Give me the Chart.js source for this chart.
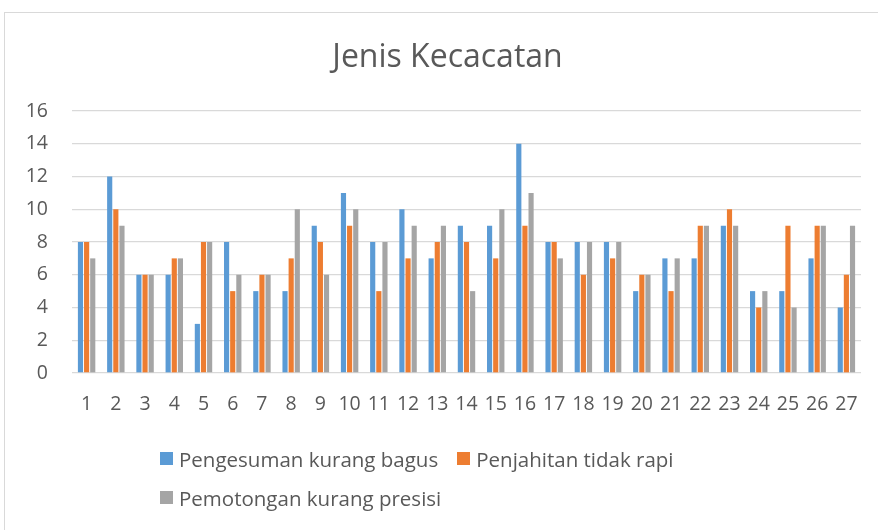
<!DOCTYPE html>
<html>
<head>
<meta charset="utf-8">
<script src="https://cdn.jsdelivr.net/npm/chart.js@4.4.1/dist/chart.umd.min.js"></script>
<style>
  html, body { margin: 0; padding: 0; background: #fff; }
  #wrap { position: relative; width: 878px; height: 530px; overflow: hidden; }
  #frame { position: absolute; left: 4px; top: 12px; width: 880px; height: 530px; border: 1px solid #d9d9d9; box-sizing: border-box; }
  canvas { position: absolute; left: 0; top: 0; }
  #legend { position: absolute; left: 160px; top: 445px; width: 560px; display: flex; flex-wrap: wrap;
            font-family: "Open Sans", sans-serif; font-size: 20.5px; color: #595959; }
  .item { display: flex; align-items: center; height: 27px; margin-right: 19px; margin-bottom: 12px; white-space: nowrap; }
  .sw { width: 13px; height: 13px; margin-right: 6px; flex: none; }
</style>
</head>
<body>
<div id="wrap">
  <div id="frame"></div>
  <canvas id="c" width="878" height="530"></canvas>
  <div id="legend"></div>
</div>
<script>
const categories = ["1","2","3","4","5","6","7","8","9","10","11","12","13","14","15","16","17","18","19","20","21","22","23","24","25","26","27"];
const pengesuman = [8,12,6,6,3,8,5,5,9,11,8,10,7,9,9,14,8,8,8,5,7,7,9,5,5,7,4];
const penjahitan = [8,10,6,7,8,5,6,7,8,9,5,7,8,8,7,9,8,6,7,6,5,9,10,4,9,9,6];
const pemotongan = [7,9,6,7,8,6,6,10,6,10,8,9,9,5,10,11,7,8,8,6,7,9,9,5,4,9,9];
const seriesNames = ["Pengesuman kurang bagus","Penjahitan tidak rapi","Pemotongan kurang presisi"];
const colors = ["#5B9BD5","#ED7D31","#A5A5A5"];
const yTicks = [0,2,4,6,8,10,12,14,16];

const seriesData = [pengesuman, penjahitan, pemotongan];
const chart = new Chart(document.getElementById('c'), {
  type: 'bar',
  data: {
    labels: categories,
    datasets: seriesData.map((d, i) => ({
      label: seriesNames[i],
      data: d,
      backgroundColor: colors[i],
      borderWidth: 0,
      categoryPercentage: 0.63,
      barPercentage: 0.84
    }))
  },
  options: {
    responsive: false,
    animation: false,
    layout: { padding: { left: 17, right: 0, top: 0, bottom: 117 } },
    plugins: {
      legend: { display: false },
      tooltip: { enabled: false },
      title: {
        display: true,
        text: 'Jenis Kecacatan',
        color: '#595959',
        font: { family: 'Open Sans', size: 32, weight: 'normal', lineHeight: 1.2 },
        padding: { top: 39, bottom: 33.6 }
      }
    },
    scales: {
      x: {
        grid: { display: false, drawTicks: false },
        border: { display: false },
        ticks: { color: '#595959', font: { family: 'Open Sans', size: 19.5 }, padding: 20, maxRotation: 0, autoSkip: false },
        afterFit: s => { s.height = 40; }
      },
      y: {
        min: 0, max: 16,
        afterBuildTicks: s => { s.ticks = yTicks.map(v => ({ value: v })); },
        grid: { color: '#d9d9d9', lineWidth: 1.3, drawTicks: false },
        border: { display: false },
        ticks: { color: '#595959', font: { family: 'Open Sans', size: 19.5 }, padding: 24 },
        afterFit: s => { s.width = 55; }
      },
      yRightSpace: {
        position: 'right',
        display: true,
        grid: { display: false, drawTicks: false },
        border: { display: false },
        ticks: { display: false },
        afterFit: s => { s.width = 17; }
      }
    }
  }
});

const leg = document.getElementById('legend');
chart.data.datasets.forEach(ds => {
  const it = document.createElement('div');
  it.className = 'item';
  const sw = document.createElement('span');
  sw.className = 'sw';
  sw.style.background = ds.backgroundColor;
  const tx = document.createElement('span');
  tx.textContent = ds.label;
  it.appendChild(sw); it.appendChild(tx);
  leg.appendChild(it);
});
</script>
</body>
</html>
